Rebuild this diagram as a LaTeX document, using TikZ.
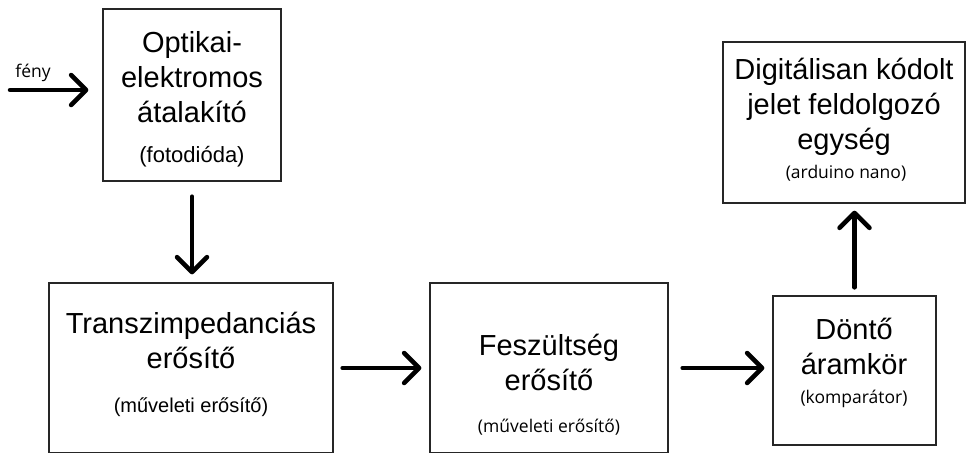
\documentclass[tikz,border=0pt]{standalone}
\usepackage{fontspec}
\setmainfont{Liberation Sans}
\newfontfamily\notefont{Open Sans}
\usetikzlibrary{arrows.meta,calc,positioning}
\tikzset{
	every node/.style={
		font=\fontsize{29}{35}\selectfont,
		align=center,
		inner sep=0pt
	},
	block/.style={
		shape=rectangle,
		draw=black!85,
		line width=1.3pt
	},
	note/.style={
		font=\fontsize{20}{24}\selectfont
	},
	notesans/.style={
		font=\notefont\fontsize{17.5}{21}\selectfont
	},
	flow/.style={
		-{Straight Barb[length=15pt,width=30pt,round]},
		line width=4.5pt,
		line cap=round
	}
}

\begin{document}
\begin{tikzpicture}[x=1pt,y=-1pt]
	\useasboundingbox (0,0) rectangle (976,452);

	% blocks
	\node[block,minimum width=178pt,minimum height=172pt] (opto) at (192,95) {};
	\node[block,minimum width=284pt,minimum height=170pt] (tia) at (191,368) {};
	\node[block,minimum width=238pt,minimum height=170pt] (amp) at (549,368) {};
	\node[block,minimum width=163pt,minimum height=149pt] (comp) at (854.5,370.5) {};
	\node[block,minimum width=242pt,minimum height=161pt] (mcu) at (844,122.5) {};

	% texts
	\node (optotitle) at (192,77) {Optikai-\\elektromos\\átalakító};
	\node[note,font=\fontsize{22}{26}\selectfont] (optonote) at (192,157) {(fotodióda)};
	\node (tiatitle) at (191,340) {Transzimpedanciás\\erősítő};
	\node[note] (tianote) at (191,407) {(műveleti erősítő)};
	\node (amptitle) at (549,362) {Feszültség\\erősítő};
	\node[notesans] (ampnote) at (549,427) {(műveleti erősítő)};
	\node (comptitle) at (854,346) {Döntő\\áramkör};
	\node[notesans] (compnote) at (854,399) {(komparátor)};
	\node (mcutitle) at (844,107) {Digitálisan kódolt\\jelet feldolgozó\\egység};
	\node[notesans] (mcunote) at (846,173) {(arduino nano)};

	% light input
	\coordinate (light) at (10,90);
	\node[notesans] (lightlabel) at (33,73) {fény};

	\draw[flow,shorten >=14pt] (light) -- (opto.west |- light);
	\draw[flow,shorten <=15pt,shorten >=8pt] (opto.south) -- (tia.north -| opto.south);
	\draw[flow,shorten <=9pt,shorten >=8pt] (tia.east) -- (amp.west);
	\draw[flow,shorten <=14pt,shorten >=8pt] (amp.east) -- (comp.west |- amp.east);
	\draw[flow,shorten <=8pt,shorten >=7pt] (comp.north) -- (mcu.south -| comp.north);
\end{tikzpicture}
\end{document}
